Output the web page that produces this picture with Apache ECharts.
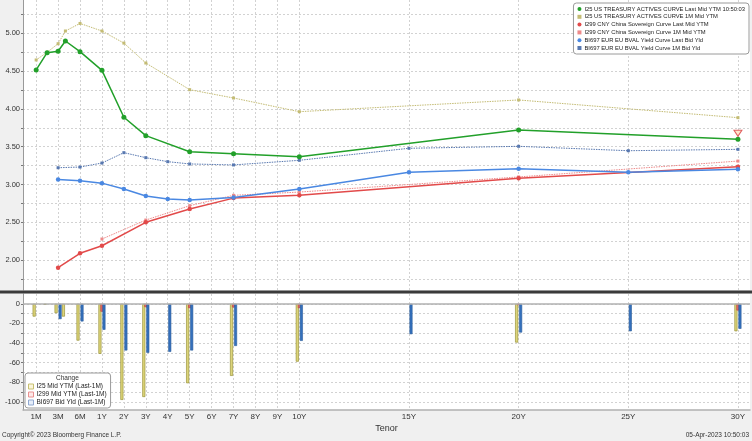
<!DOCTYPE html>
<html>
<head>
<meta charset="utf-8">
<script src="https://cdn.jsdelivr.net/npm/echarts@6/dist/echarts.min.js"></script>
<style>
  html, body { margin: 0; padding: 0; background: #f0f0f0; }
  #chart { width: 752px; height: 441px; }
</style>
</head>
<body>
<div id="chart"></div>
<script>
// Tenor axis: tick labels and their slot on the axis (piecewise scale)
const tickLabels = ['1M', '3M', '6M', '1Y', '2Y', '3Y', '4Y', '5Y', '6Y', '7Y', '8Y', '9Y', '10Y', '15Y', '20Y', '25Y', '30Y'];
const tickSlots = [0, 1, 2, 3, 4, 5, 6, 7, 8, 9, 10, 11, 12, 17, 22, 27, 32];

// I25 US Treasury actives
const usTenors = ['1M', '2M', '3M', '4M', '6M', '1Y', '2Y', '3Y', '5Y', '7Y', '10Y', '20Y', '30Y'];
const usLast = [4.515, 4.743, 4.762, 4.898, 4.757, 4.51, 3.889, 3.646, 3.434, 3.407, 3.368, 3.721, 3.598];
const us1M = [4.647, 4.749, 4.862, 5.03, 5.13, 5.03, 4.87, 4.607, 4.254, 4.144, 3.963, 4.118, 3.884];
const usChg = [-13, -1, -9.5, -13, -37.5, -51, -98, -95, -81, -73.5, -59, -39.5, -28];

// I299 CNY China sovereign
const cnTenorsLast = ['3M', '6M', '1Y', '3Y', '5Y', '7Y', '10Y', '20Y', '30Y'];
const cnLast = [1.90, 2.09, 2.19, 2.50, 2.676, 2.82, 2.857, 3.082, 3.236];
const cnTenors1M = ['1Y', '3Y', '5Y', '7Y', '10Y', '20Y', '30Y'];
const cn1M = [2.279, 2.53, 2.72, 2.857, 2.90, 3.10, 3.31];
const cnChg = [-8, -3.4, -4.4, -3.7, -4.4, -1.5, -6.8];

// BI697 EUR EU BVAL
const euTenors = ['3M', '6M', '1Y', '2Y', '3Y', '4Y', '5Y', '7Y', '10Y', '15Y', '20Y', '25Y', '30Y'];
const euLast = [3.066, 3.049, 3.018, 2.94, 2.847, 2.807, 2.794, 2.829, 2.94, 3.161, 3.209, 3.161, 3.201];
const eu1M = [3.222, 3.231, 3.284, 3.421, 3.355, 3.302, 3.272, 3.259, 3.32, 3.479, 3.505, 3.447, 3.465];
const euChg = [-15.6, -18, -26.5, -47.6, -50, -49, -47.6, -43, -37.8, -31, -29.3, -28, -25.5];

const topTicks = [1.75, 2, 2.25, 2.5, 2.75, 3, 3.25, 3.5, 3.75, 4, 4.25, 4.5, 4.75, 5, 5.25];
const topLabels = [2, 2.5, 3, 3.5, 4, 4.5, 5];
const botTicks = [-100, -90, -80, -70, -60, -50, -40, -30, -20, -10, 0];
const botLabels = [-100, -80, -60, -40, -20, 0];

const names = {
    usLast: 'I25 US TREASURY ACTIVES CURVE Last Mid YTM 10:50:03',
    us1M: 'I25 US TREASURY ACTIVES CURVE 1M Mid YTM',
    cnLast: 'I299 CNY China Sovereign Curve Last Mid YTM',
    cn1M: 'I299 CNY China Sovereign Curve 1M Mid YTM',
    euLast: 'BI697 EUR EU BVAL Yield Curve Last Bid Yld',
    eu1M: 'BI697 EUR EU BVAL Yield Curve 1M Bid Yld',
    usChg: 'I25 Mid YTM (Last-1M)',
    cnChg: 'I299 Mid YTM (Last-1M)',
    euChg: 'BI697 Bid Yld (Last-1M)'
};

// tenor string -> years
function years(t) {
    const n = parseFloat(t);
    return t.endsWith('M') ? n / 12 : n;
}

// tenor string -> axis slot, linear between neighbouring ticks
function slot(t) {
    const y = years(t);
    for (let i = 0; i < tickLabels.length - 1; i++) {
        const a = years(tickLabels[i]), b = years(tickLabels[i + 1]);
        if (y >= a && y <= b) {
            return tickSlots[i] + (y - a) / (b - a) * (tickSlots[i + 1] - tickSlots[i]);
        }
    }
    return tickSlots[tickSlots.length - 1];
}

const pairs = (tenors, vals) => tenors.map((t, i) => [slot(t), vals[i]]);
const labelOf = v => {
    const i = tickSlots.indexOf(Math.round(v));
    return i >= 0 ? tickLabels[i] : '';
};

const FONT = 'Liberation Sans';
const chart = echarts.init(document.getElementById('chart'));

const xBase = {
    type: 'value',
    min: -0.6,
    max: 32.55,
    axisLine: { show: false },
    axisTick: { show: false, customValues: tickSlots },
    splitLine: { show: true, lineStyle: { color: '#d2d2d2', type: [2, 2], width: 1 } }
};

function lineSeries(key, data, color, dotted, symbol, size, width) {
    return {
        name: names[key],
        type: 'line',
        xAxisIndex: 0,
        yAxisIndex: 0,
        data: data,
        symbol: symbol,
        symbolSize: size,
        showSymbol: true,
        lineStyle: { color: color, width: width, type: dotted ? [1.5, 1] : 'solid' },
        itemStyle: { color: color },
        z: dotted ? 3 : 4
    };
}

function barSeries(key, data, fill, border) {
    return {
        name: names[key],
        type: 'bar',
        xAxisIndex: 1,
        yAxisIndex: 1,
        data: data,
        barWidth: 3,
        barGap: '-33%',
        itemStyle: { color: fill, borderColor: border, borderWidth: 0.6 }
    };
}

const gridBase = { left: 23, right: 2, show: true, backgroundColor: '#ffffff', borderWidth: 0, containLabel: false, outerBoundsMode: 'none' };

const option = {
    backgroundColor: '#f0f0f0',
    animation: false,
    textStyle: { fontFamily: FONT },
    grid: [
        Object.assign({}, gridBase, { top: 0, height: 290 }),
        Object.assign({}, gridBase, { top: 294, height: 116 })
    ],
    xAxis: [
        Object.assign({}, xBase, {
            gridIndex: 0,
            axisLabel: { show: false, customValues: tickSlots }
        }),
        Object.assign({}, xBase, {
            gridIndex: 1,
            name: 'Tenor',
            nameLocation: 'middle',
            nameGap: 14,
            nameTextStyle: { fontFamily: FONT, fontSize: 9, color: '#333' },
            axisLine: { show: true, onZero: false, lineStyle: { color: '#b0b0b0', width: 1.5 } },
            axisLabel: {
                customValues: tickSlots,
                formatter: labelOf,
                fontFamily: FONT, fontSize: 8, color: '#333', margin: 3
            }
        })
    ],
    yAxis: [
        {
            type: 'value', gridIndex: 0, min: 1.605, max: 5.44,
            axisLine: { show: true, onZero: false, lineStyle: { color: '#999' } },
            axisTick: { show: true, length: 2, customValues: topTicks, lineStyle: { color: '#777' } },
            axisLabel: {
                customValues: topLabels,
                formatter: v => v.toFixed(2),
                fontFamily: FONT, fontSize: 7.5, color: '#333', margin: 3
            },
            splitLine: { show: true, lineStyle: { color: '#d2d2d2', type: [2, 2] } }
        },
        {
            type: 'value', gridIndex: 1, min: -108.3, max: 10,
            axisLine: { show: true, onZero: false, lineStyle: { color: '#999' } },
            axisTick: { show: true, length: 2, customValues: botTicks, lineStyle: { color: '#777' } },
            axisLabel: {
                customValues: botLabels,
                fontFamily: FONT, fontSize: 7.5, color: '#333', margin: 3
            },
            splitLine: { show: true, lineStyle: { color: '#d2d2d2', type: [2, 2] } }
        }
    ],
    legend: [
        {
            orient: 'vertical',
            right: 3,
            top: 3,
            backgroundColor: '#ffffff',
            borderColor: '#9a9a9a',
            borderWidth: 1,
            borderRadius: 3,
            padding: [3, 4, 3, 4],
            itemGap: 1.8,
            itemWidth: 4,
            itemHeight: 4,
            textStyle: { fontFamily: FONT, fontSize: 5.8, color: '#222', padding: [0, 0, 0, -2] },
            data: [
                { name: names.usLast, icon: 'circle' },
                { name: names.us1M, icon: 'rect' },
                { name: names.cnLast, icon: 'circle' },
                { name: names.cn1M, icon: 'rect' },
                { name: names.euLast, icon: 'circle' },
                { name: names.eu1M, icon: 'rect' }
            ]
        },
        {
            orient: 'vertical',
            left: 25,
            top: 373,
            backgroundColor: '#ffffff',
            borderColor: '#9a9a9a',
            borderWidth: 1,
            borderRadius: 3,
            padding: [10, 4, 2, 3],
            itemGap: 1,
            itemWidth: 5,
            itemHeight: 5,
            textStyle: { fontFamily: FONT, fontSize: 6.5, color: '#222', padding: [0, 0, 0, -2] },
            data: [
                { name: names.usChg, icon: 'rect', itemStyle: { color: '#fbf6dc', borderColor: '#c8c070', borderWidth: 1 } },
                { name: names.cnChg, icon: 'rect', itemStyle: { color: '#fde8e8', borderColor: '#e89090', borderWidth: 1 } },
                { name: names.euChg, icon: 'rect', itemStyle: { color: '#e6eefa', borderColor: '#90a8d0', borderWidth: 1 } }
            ]
        }
    ],
    graphic: [
        { type: 'rect', left: 0, top: 290.5, shape: { width: 752, height: 3 }, style: { fill: '#3a3a3a' }, z: 100 },
        { type: 'text', left: 56, top: 375, style: { text: 'Change', fontFamily: FONT, fontSize: 6.5, fill: '#333' }, z: 100 },
        { type: 'text', left: 2, top: 432, style: { text: 'Copyright\u00A9 2023 Bloomberg Finance L.P.', fontFamily: FONT, fontSize: 6.5, fill: '#333' } },
        { type: 'text', right: 3, top: 432, style: { text: '05-Apr-2023 10:50:03', fontFamily: FONT, fontSize: 6.5, fill: '#333' } }
    ],
    series: [
        lineSeries('us1M', pairs(usTenors, us1M), '#c4bc74', true, 'rect', 3, 1),
        lineSeries('cn1M', pairs(cnTenors1M, cn1M), '#ee8a8a', true, 'rect', 3, 1),
        lineSeries('eu1M', pairs(euTenors, eu1M), '#5878b0', true, 'rect', 3, 1),
        Object.assign(lineSeries('usLast', pairs(usTenors, usLast), '#22a02a', false, 'circle', 5, 1.5), {
            markPoint: {
                symbol: 'triangle',
                symbolRotate: 180,
                symbolSize: [8, 6],
                symbolOffset: [0, -6],
                label: { show: false },
                itemStyle: { color: '#fde6cc', borderColor: '#e06060', borderWidth: 1 },
                data: [{ coord: [slot(usTenors[usTenors.length - 1]), usLast[usLast.length - 1]] }]
            }
        }),
        lineSeries('cnLast', pairs(cnTenorsLast, cnLast), '#e24a4a', false, 'circle', 4.5, 1.5),
        lineSeries('euLast', pairs(euTenors, euLast), '#4a88e2', false, 'circle', 4.5, 1.5),
        Object.assign(barSeries('usChg', pairs(usTenors, usChg), '#dcd47a', '#8d8728'), {
            markLine: {
                silent: true,
                symbol: 'none',
                label: { show: false },
                lineStyle: { color: '#b0b0b0', type: 'solid', width: 1.5 },
                data: [{ yAxis: 0 }]
            }
        }),
        barSeries('cnChg', pairs(cnTenors1M, cnChg), '#e06a6a', '#c04040'),
        barSeries('euChg', pairs(euTenors, euChg), '#3470bc', '#2a5c9c')
    ]
};

chart.setOption(option);
</script>
</body>
</html>
